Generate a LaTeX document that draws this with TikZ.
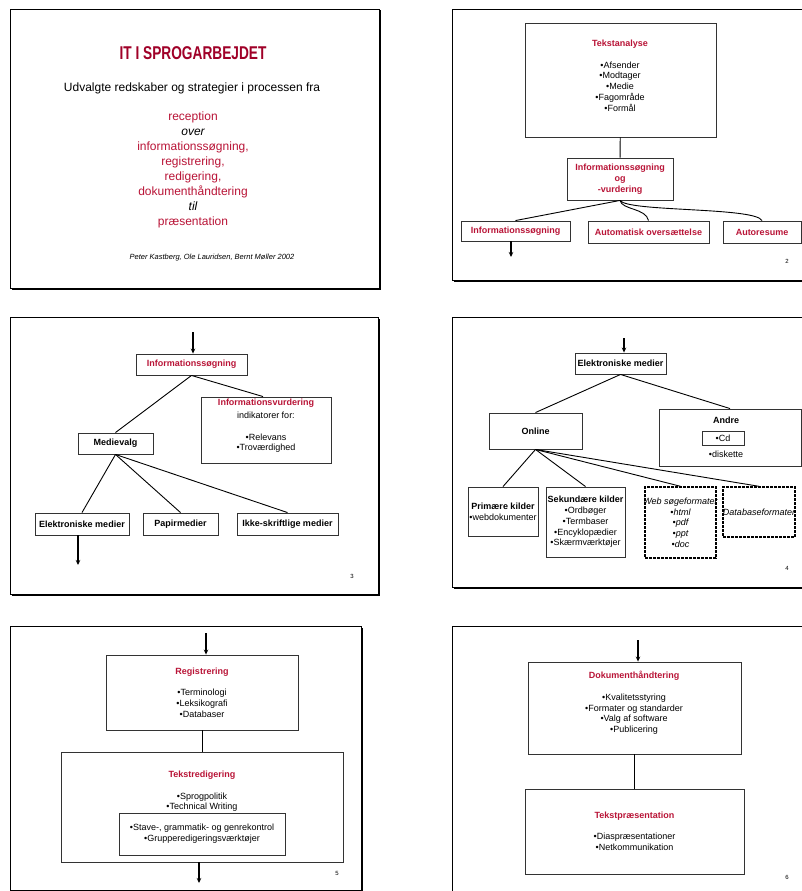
\documentclass[tikz,border=0pt]{standalone}
\usepackage{fontspec}
\setmainfont{Liberation Sans}
\usetikzlibrary{arrows.meta}
\definecolor{titlered}{RGB}{160,0,40}
\definecolor{itred}{RGB}{185,20,55}
\newcommand{\slideframe}[4]{% slide with drop shadow
  \draw[line width=0.8pt] (#1,#2) rectangle (#3,#4);
  \draw[line width=2pt] (#1+1.5,#4+0.6) -- (#3+0.6,#4+0.6) -- (#3+0.6,#2+1.5);}
\begin{document}
\begin{tikzpicture}[x=1pt,y=-1pt,
  box/.style={draw=black!80, line width=0.9pt, inner sep=0pt, align=center,
    font=\fontsize{9}{10.7}\selectfont},
  dashbox/.style={box, draw=black, line width=1.4pt, dash pattern=on 3pt off 1pt},
  txt/.style={inner sep=0pt, align=center, font=\fontsize{9}{10.7}\selectfont},
  lbl/.style={font=\fontsize{9}{10.7}\selectfont\bfseries, text=itred},
  lblk/.style={font=\fontsize{9}{10.7}\selectfont\bfseries},
  pgnum/.style={font=\fontsize{6}{6}\selectfont},
  link/.style={line width=0.9pt},
  arr/.style={line width=1.2pt, -{Stealth[length=5pt,width=4.5pt]}}]
\useasboundingbox (0,0) rectangle (802,891);
\clip (0,0) rectangle (802,891);
\fill[white] (0,0) rectangle (802,891);

% slide 1: title
\slideframe{10}{9}{379}{288}
\node[font=\fontsize{18.5}{18}\selectfont\bfseries, text=titlered, xscale=0.74] (title) at (193,53) {IT I SPROGARBEJDET};
\node[font=\fontsize{12}{14}\selectfont] (subtitle) at (192,88) {Udvalgte redskaber og strategier i processen fra};
\node[font=\fontsize{12}{14.9}\selectfont, align=center, text=itred] (flow) at (193,170)
  {reception\\ \textcolor{black}{\itshape over}\\ informationssøgning,\\ registrering,\\ redigering,\\
   dokumenthåndtering\\ \textcolor{black}{\itshape til}\\ præsentation};
\node[font=\fontsize{7.5}{8}\selectfont\itshape] (authors) at (212,258) {Peter Kastberg, Ole Lauridsen, Bernt Møller 2002};

% slide 2: tekstanalyse
\slideframe{452}{9}{812}{280}
\node[box, minimum width=191pt, minimum height=114pt] (ana) at (620.5,80) {};
\node[txt, font=\fontsize{9}{10.75}\selectfont] (anatxt) at (620,75.5)
  {\textcolor{itred}{\bfseries Tekstanalyse}\\[11pt] •Afsender\\ •Modtager\\ •Medie\\ •Fagområde\\ •Formål};
\node[box, lbl, minimum width=106pt, minimum height=42pt] (infosog) at (620,179) {Informationssøgning\\ og\\ -vurdering};
\node[box, lbl, minimum width=109pt, minimum height=20pt] (isog2) at (515.5,231) {Informationssøgning};
\node[box, lbl, minimum width=121pt, minimum height=22pt] (autoov) at (648.5,232) {Automatisk oversættelse};
\node[box, lbl, minimum width=78pt, minimum height=22pt] (autores) at (762,232) {Autoresume};
\coordinate (isogend) at (511,257);
\draw[link] (ana) -- (infosog);
\draw[link] (infosog.south) -- (isog2.north);
\draw[link] (infosog.south) .. controls (622,210) and (646,208) .. (autoov.north);
\draw[link] (infosog.south) .. controls (628,212) and (755,207) .. (autores.north);
\draw[arr] (isogend |- isog2.south) -- (isogend);
\node[pgnum] (pg2) at (787,261) {2};

% slide 3: informationssoegning
\slideframe{10}{317}{378}{594}
\coordinate (top3) at (193,332);
\node[box, lbl, minimum width=111pt, minimum height=21pt] (isog3) at (191.5,364.5) {Informationssøgning};
\node[box, minimum width=130pt, minimum height=66pt] (vurd) at (266,430) {};
\node[lbl] (vurdtitle) at (266,403) {Informationsvurdering};
\node[txt] (vurdtxt) at (266,432.5) {indikatorer for:\\[10.5pt] •Relevans\\ •Troværdighed};
\node[box, lblk, minimum width=75pt, minimum height=21pt] (medie) at (115.5,443.5) {Medievalg};
\node[box, lblk, minimum width=94pt, minimum height=22pt] (elek3) at (82,524) {Elektroniske medier};
\node[box, lblk, minimum width=75pt, minimum height=22pt] (papir) at (180.5,524) {Papirmedier};
\node[box, lblk, minimum width=101pt, minimum height=22pt] (ikke) at (287.5,524) {Ikke-skriftlige medier};
\coordinate (elekend) at (78,565);
\draw[arr] (top3) -- (top3 |- isog3.north);
\draw[link] (isog3.south) -- (medie.north);
\draw[link] (isog3.south) -- ([xshift=-3pt]vurd.north);
\foreach \m in {elek3,papir,ikke}
  \draw[link] (medie.south) -- (\m.north);
\draw[arr] (elekend |- elek3.south) -- (elekend);
\node[pgnum] (pg3) at (352,576) {3};

% slide 4: elektroniske medier
\slideframe{452}{317}{812}{587}
\coordinate (top4) at (624,338);
\node[box, lblk, minimum width=91pt, minimum height=21pt] (elek4) at (620.5,363.5) {Elektroniske medier};
\node[box, lblk, minimum width=93pt, minimum height=36pt] (online) at (535.5,431) {Online};
\node[box, minimum width=142pt, minimum height=57pt] (andre) at (730,437.5) {};
\node[lblk] (andretitle) at (726,420) {Andre};
\node[box, minimum width=42pt, minimum height=14pt] (cd) at (723,438) {•Cd};
\node[txt] (disk) at (726,454) {•diskette};
\node[box, minimum width=70pt, minimum height=49pt] (prim) at (503,511.5) {\textbf{Primære kilder}\\ •webdokumenter};
\node[box, minimum width=79pt, minimum height=70pt] (sek) at (585.5,522)
  {\textbf{Sekundære kilder}\\ •Ordbøger\\ •Termbaser\\ •Encyklopædier\\ •Skærmværktøjer};
\node[dashbox, minimum width=71pt, minimum height=71pt, font=\fontsize{9}{10.7}\selectfont\itshape] (web) at (680.5,522.5)
  {\makebox[0pt]{Web søgeformater}\\ •html\\ •pdf\\ •ppt\\ •doc};
\node[dashbox, minimum width=72pt, minimum height=50pt, font=\fontsize{9}{10.7}\selectfont\itshape] (db) at (759,512)
  {\makebox[0pt]{Databaseformater}};
\draw[arr] (top4) -- (top4 |- elek4.north);
\draw[link] (elek4.south) -- (online.north);
\draw[link] (elek4.south) -- (andre.north);
\foreach \k in {prim,sek,web,db}
  \draw[link] (online.south) -- (\k.north);
\node[pgnum] (pg4) at (787,568) {4};

% slide 5: registrering og redigering
\slideframe{10}{626}{361}{890}
\coordinate (top5) at (206,633);
\node[box, minimum width=192pt, minimum height=75pt] (reg) at (202,692.5)
  {\textcolor{itred}{\bfseries Registrering}\\[10.5pt] •Terminologi\\ •Leksikografi\\ •Databaser};
\node[box, minimum width=282pt, minimum height=110pt] (redig) at (202,807) {};
\node[txt] (redigtxt) at (202,791.5) {\textcolor{itred}{\bfseries Tekstredigering}\\[10.5pt] •Sprogpolitik\\ •Technical Writing};
\node[box, minimum width=166pt, minimum height=42pt] (stave) at (202,834)
  {•Stave-, grammatik- og genrekontrol\\ •Grupperedigeringsværktøjer};
\coordinate (regend) at (199,883);
\draw[arr] (top5) -- (top5 |- reg.north);
\draw[link] (reg) -- (redig);
\draw[arr] (regend |- redig.south) -- (regend);
\node[pgnum] (pg5) at (337,873) {5};

% slide 6: dokumenthaandtering og praesentation
\slideframe{452}{626}{812}{900}
\coordinate (top6) at (638,640);
\node[box, minimum width=213pt, minimum height=92pt] (dok) at (634.5,708) {};
\node[txt] (doktxt) at (634,703)
  {\textcolor{itred}{\bfseries Dokumenthåndtering}\\[11pt] •Kvalitetsstyring\\ •Formater og standarder\\ •Valg af software\\ •Publicering};
\node[box, minimum width=219pt, minimum height=85pt] (pres) at (634.5,831.5)
  {\textcolor{itred}{\bfseries Tekstpræsentation}\\[10.5pt] •Diaspræsentationer\\ •Netkommunikation};
\draw[arr] (top6) -- (top6 |- dok.north);
\draw[link] (dok) -- (pres);
\node[pgnum] (pg6) at (787,877) {6};
\end{tikzpicture}
\end{document}
